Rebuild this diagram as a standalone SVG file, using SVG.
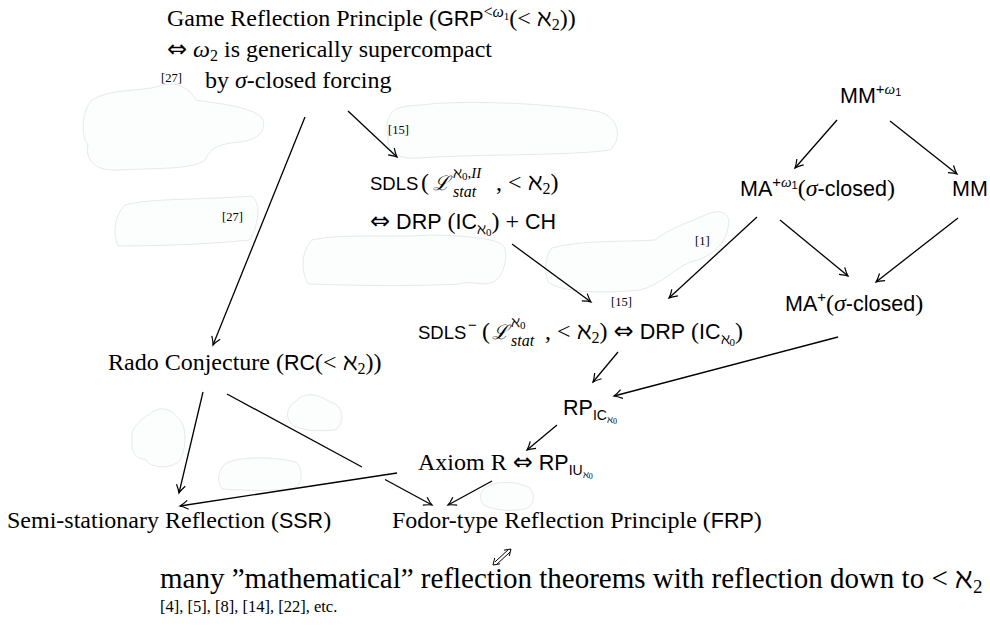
<svg xmlns="http://www.w3.org/2000/svg" width="990" height="628" viewBox="0 0 990 628">
<style>
.rm{font-family:"Liberation Serif","DejaVu Serif",serif;font-size:24px;fill:#000}
.sf{font-family:"Liberation Sans","DejaVu Sans",sans-serif;font-size:21.5px;fill:#000}
.sfs{font-family:"Liberation Sans","DejaVu Sans",sans-serif;font-style:normal}
.rms{font-family:"Liberation Serif","DejaVu Serif",serif;font-style:normal}
.mi{font-family:"Liberation Serif","DejaVu Serif",serif;font-style:italic}
.ar{font-family:"DejaVu Sans",sans-serif;font-style:normal}
.cal{font-family:"DejaVu Serif","Liberation Serif",serif;font-style:italic}
.ref{font-family:"Liberation Serif","DejaVu Serif",serif;font-size:12.5px;fill:#000}
.blob{fill:#fcfdfd;stroke:#dcdfdf;stroke-width:0.7}
.e{fill:none;stroke:#000;stroke-width:1.3;marker-end:url(#ah)}
.l{fill:none;stroke:#000;stroke-width:1.3}
</style>
<defs>
<marker id="ah" viewBox="-10 -6 12 12" markerWidth="12" markerHeight="12" refX="0" refY="0" orient="auto" markerUnits="userSpaceOnUse">
<path d="M-8,-4.5 Q-3,-1 0,0 Q-3,1 -8,4.5" fill="none" stroke="#000" stroke-width="1.2"/>
</marker>
</defs>
<rect width="990" height="628" fill="#fff"/>
<g id="blobs">
<path class="blob" d="M92,100 C110,88 140,92 160,86 C175,80 190,88 196,100 C220,104 250,106 262,118 C268,130 258,140 240,142 C215,144 210,150 205,160 C195,170 150,168 120,170 C95,172 85,160 88,145 C80,135 82,110 92,100 Z"/>
<path class="blob" d="M125,205 C150,198 200,200 252,196 C262,205 258,225 250,240 C200,245 150,246 118,246 C112,232 115,215 125,205 Z"/>
<path class="blob" d="M392,112 C400,104 420,106 430,104 C470,100 560,104 600,112 C620,118 622,140 610,150 C570,156 470,154 420,158 C395,160 386,150 388,135 C385,125 388,118 392,112 Z"/>
<path class="blob" d="M312,240 C340,233 400,238 430,235 C470,236 500,238 505,248 C508,265 500,282 490,283 C480,286 470,280 460,284 C400,287 340,285 308,284 C300,270 302,250 312,240 Z"/>
<path class="blob" d="M552,248 C580,240 620,242 655,240 C670,228 690,222 705,215 C720,208 732,212 728,228 C725,245 710,258 690,262 C670,272 660,285 640,290 C600,294 560,292 548,282 C544,270 545,255 552,248 Z"/>
<path class="blob" d="M150,414 C160,404 172,410 178,418 C188,425 186,450 180,460 C172,470 150,468 146,460 C138,458 130,455 132,440 C130,428 140,420 150,414 Z"/>
<path class="blob" d="M295,402 C305,390 320,395 330,402 C345,405 345,425 335,430 C315,432 295,430 290,422 C285,415 288,406 295,402 Z"/>
<path class="blob" d="M228,462 C250,455 280,458 296,462 C304,470 302,485 295,488 C270,492 240,490 222,489 C216,480 218,468 228,462 Z"/>
<path class="blob" d="M488,486 C500,480 520,482 530,488 C536,496 534,506 525,509 C510,512 492,510 484,505 C478,498 480,490 488,486 Z"/>
</g>
<g id="connectors">
<path class="e" d="M305,117 L213,345"/>
<path class="e" d="M348,111 L397,157"/>
<path class="e" d="M512,244 L591,302"/>
<path class="e" d="M757,217 L669,298"/>
<path class="e" d="M780,220 L848,276"/>
<path class="e" d="M958,218 L876,282"/>
<path class="e" d="M837,120 L795,168"/>
<path class="e" d="M890,121 L957,174"/>
<path class="e" d="M838,337 L614,396"/>
<path class="e" d="M618,352 L593,382"/>
<path class="e" d="M557,425 L527,450"/>
<path class="e" d="M203,392 L179,493"/>
<path class="l" d="M227,394 L362,467"/>
<path class="e" d="M385,479.5 L432,505"/>
<path class="e" d="M397,473 L180,506"/>
<path class="e" d="M492,481 L448,505"/>
<g id="double-arrow" fill="none" stroke="#000" stroke-width="1">
<path d="M497,564.1 L510,552.1 M495,561.9 L508,549.9"/>
<path d="M509.3,556 L511,549 L503.9,550.2"/>
<path d="M500.1,563.8 L493,565 L494.7,558"/>
</g>
<text class="ref" x="161" y="82">[27]</text>
<text class="ref" x="388" y="134">[15]</text>
<text class="ref" x="222" y="221">[27]</text>
<text class="ref" x="695" y="245">[1]</text>
<text class="ref" x="611" y="306">[15]</text>
</g>
<g id="grp">
<text class="rm" x="167" y="26">Game Reflection Principle (<tspan class="sfs" style="font-size:21.5px">GRP</tspan><tspan style="font-size:16px" dy="-9">&lt;</tspan><tspan class="mi" style="font-size:16px">ω</tspan><tspan style="font-size:11px" dy="3">1</tspan><tspan dy="6">(&lt; ℵ</tspan><tspan style="font-size:16px" dy="4">2</tspan><tspan dy="-4">))</tspan></text>
<text class="rm" x="167" y="57"><tspan class="ar">⇔</tspan> <tspan class="mi">ω</tspan><tspan style="font-size:16px" dy="4">2</tspan><tspan dy="-4"> is generically supercompact</tspan></text>
<text class="rm" x="205" y="88">by <tspan class="mi">σ</tspan>-closed forcing</text>
</g>
<g id="mm-omega">
<text class="sf" x="840" y="103">MM<tspan style="font-size:15px" dy="-9">+</tspan><tspan class="mi" style="font-size:15px">ω</tspan><tspan style="font-size:11px" dy="2">1</tspan></text>
</g>
<g id="ma-omega">
<text class="sf" x="740" y="196">MA<tspan style="font-size:15px" dy="-9">+</tspan><tspan class="mi" style="font-size:15px">ω</tspan><tspan style="font-size:11px" dy="2">1</tspan><tspan dy="7" class="rms" style="font-size:24px">(</tspan><tspan class="mi" style="font-size:24px">σ</tspan>-closed<tspan class="rms" style="font-size:24px">)</tspan></text>
</g>
<g id="mm">
<text class="sf" x="952" y="196">MM</text>
</g>
<g id="ma-plus">
<text class="sf" x="785" y="311">MA<tspan style="font-size:15px" dy="-9">+</tspan><tspan dy="9" class="rms" style="font-size:24px">(</tspan><tspan class="mi" style="font-size:24px">σ</tspan>-closed<tspan class="rms" style="font-size:24px">)</tspan></text>
</g>
<g id="sdls">
<text class="rm" y="190"><tspan class="sfs" x="370" style="font-size:18.5px">SDLS</tspan><tspan x="421">(</tspan><tspan class="cal" x="433" style="font-size:20px">ℒ</tspan><tspan x="453" y="178" style="font-size:15px">ℵ</tspan><tspan style="font-size:11px" dy="2">0</tspan><tspan style="font-size:15px" dy="-2">,</tspan><tspan class="mi" style="font-size:15px">II</tspan><tspan class="mi" x="453" y="197" style="font-size:16px">stat</tspan><tspan x="496" y="190">, &lt; ℵ</tspan><tspan style="font-size:16px" dy="4">2</tspan><tspan dy="-4">)</tspan></text>
<text class="rm" x="370" y="229"><tspan class="ar">⇔</tspan> <tspan class="sfs" style="font-size:21.5px">DRP</tspan> (<tspan class="sfs" style="font-size:21.5px">IC</tspan><tspan style="font-size:15px" dy="5">ℵ</tspan><tspan style="font-size:11px" dy="2">0</tspan><tspan dy="-7">) + </tspan><tspan class="sfs" style="font-size:21.5px">CH</tspan></text>
</g>
<g id="sdls-minus">
<text class="rm" y="339"><tspan class="sfs" x="418" style="font-size:18.5px">SDLS</tspan><tspan class="sfs" x="468" y="330" style="font-size:15px">−</tspan><tspan x="482" y="339">(</tspan><tspan class="cal" x="492" style="font-size:20px">ℒ</tspan><tspan x="511" y="327" style="font-size:15px">ℵ</tspan><tspan style="font-size:11px" dy="2">0</tspan><tspan class="mi" x="511" y="346" style="font-size:16px">stat</tspan><tspan x="545" y="339">, &lt; ℵ</tspan><tspan style="font-size:16px" dy="4">2</tspan><tspan dy="-4">) </tspan><tspan class="ar">⇔</tspan> <tspan class="sfs" style="font-size:21.5px">DRP</tspan> (<tspan class="sfs" style="font-size:21.5px">IC</tspan><tspan style="font-size:15px" dy="5">ℵ</tspan><tspan style="font-size:11px" dy="2">0</tspan><tspan dy="-7">)</tspan></text>
</g>
<g id="rado">
<text class="rm" x="108" y="370">Rado Conjecture (<tspan class="sfs" style="font-size:21.5px">RC</tspan>(&lt; ℵ<tspan style="font-size:16px" dy="4">2</tspan><tspan dy="-4">))</tspan></text>
</g>
<g id="rp-ic">
<text class="sf" x="563" y="415">RP<tspan style="font-size:14px" dy="5">IC</tspan><tspan class="rms" style="font-size:10px" dy="3">ℵ</tspan><tspan class="rms" style="font-size:8px" dy="1">0</tspan></text>
</g>
<g id="axiom-r">
<text class="rm" x="418" y="470">Axiom R <tspan class="ar">⇔</tspan> <tspan class="sfs" style="font-size:21.5px">RP</tspan><tspan class="sfs" style="font-size:14px" dy="5">IU</tspan><tspan style="font-size:10px" dy="3">ℵ</tspan><tspan style="font-size:8px" dy="1">0</tspan></text>
</g>
<g id="ssr">
<text class="rm" x="7" y="528">Semi-stationary Reflection (<tspan class="sfs" style="font-size:21.5px">SSR</tspan>)</text>
</g>
<g id="frp">
<text class="rm" x="392" y="528">Fodor-type Reflection Principle (<tspan class="sfs" style="font-size:21.5px">FRP</tspan>)</text>
</g>
<g id="theorems">
<text class="rm" x="160" y="588" style="font-size:29px">many ”mathematical” reflection theorems with reflection down to &lt; ℵ<tspan style="font-size:19px" dy="5">2</tspan></text>
<text class="rm" x="160" y="612" style="font-size:16.5px">[4], [5], [8], [14], [22], etc.</text>
</g>
</svg>
